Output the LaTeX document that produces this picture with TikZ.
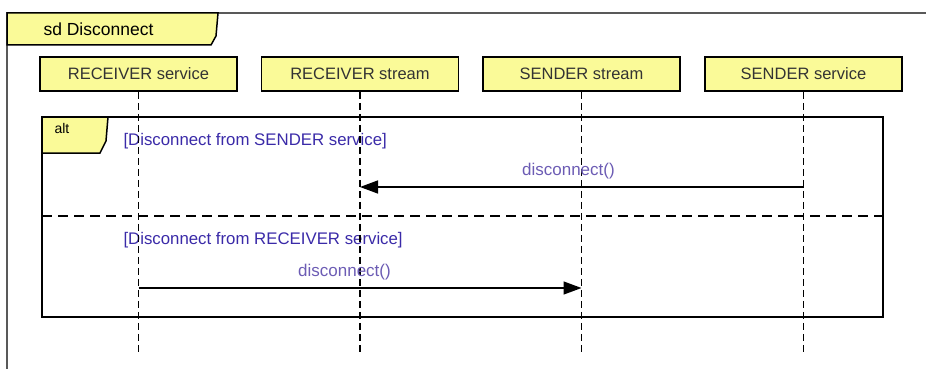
\documentclass[tikz,border=0pt]{standalone}
\usepackage{fontspec}
\setmainfont{Liberation Sans}
\usetikzlibrary{arrows.meta}
\definecolor{tabyellow}{HTML}{FAFA98}
\definecolor{guardblue}{HTML}{3A2AA8}
\definecolor{msgblue}{HTML}{6C5CB4}
\begin{document}
\begin{tikzpicture}[x=1pt,y=-1pt,
    head/.style={draw,fill=tabyellow,line width=1.5pt,minimum width=197pt,minimum height=34pt,
                 inner sep=0pt,font=\fontsize{16.5}{16.5}\selectfont,text=black!80},
    lifeline/.style={line width=1.3pt,dash pattern=on 7pt off 4pt},
    msg/.style={line width=1.5pt,-{Triangle[length=18pt,width=13pt]}},
    msglabel/.style={font=\fontsize{17}{17}\selectfont,text=msgblue},
    guard/.style={anchor=west,font=\fontsize{16.8}{16.8}\selectfont,text=guardblue}]
    \useasboundingbox (0,0) rectangle (926,369);

    % frame sd
    \draw[black!65,line width=2pt] (926,13) -- (7,13) -- (7,369);
    \draw[fill=tabyellow,line width=1.5pt] (7,13) -- (218,13) -- (216,36) -- (211,45) -- (7,45) -- cycle;
    \node[anchor=west,font=\fontsize{17.5}{17.5}\selectfont] (title) at (40,29) {sd Disconnect};

    % lifeline heads
    \node[head] (RSv) at (138.5,74) {RECEIVER service};
    \node[head] (RSt) at (360,74) {RECEIVER stream};
    \node[head] (SSt) at (581.5,74) {SENDER stream};
    \node[head] (SSv) at (803.5,74) {SENDER service};

    % alt fragment
    \draw[line width=2pt] (42,117) rectangle (883,317);
    \draw[fill=tabyellow,line width=1.5pt] (42,117) -- (108,117) -- (106,141) -- (100,153) -- (42,153) -- cycle;
    \node[anchor=west,font=\fontsize{14}{14}\selectfont] (alt) at (51,128) {alt};
    \draw[line width=2pt,dash pattern=on 10pt off 6pt] (42,216) -- (883,216);
    \node[guard] (g1) at (120,141) {[Disconnect from SENDER service]};
    \node[guard] (g2) at (120,240) {[Disconnect from RECEIVER service]};

    % lifelines
    \coordinate (RSvEnd) at (138.5,355);
    \coordinate (RStEnd) at (360,355);
    \coordinate (SStEnd) at (581.5,355);
    \coordinate (SSvEnd) at (803.5,355);
    \draw[lifeline] (RSv) -- (RSvEnd);
    \draw[lifeline] (RSt) -- (RStEnd);
    \draw[lifeline] (SSt) -- (SStEnd);
    \draw[lifeline] (SSv) -- (SSvEnd);

    % messages
    \coordinate (m1from) at (803.5,187);
    \coordinate (m1to) at (360,187);
    \coordinate (m2from) at (138.5,288);
    \coordinate (m2to) at (581.5,288);
    \draw[msg] (m1from) -- (m1to) node[msglabel,pos=.53,above=4pt] {disconnect()};
    \draw[msg] (m2from) -- (m2to) node[msglabel,pos=.465,above=4pt] {disconnect()};
\end{tikzpicture}
\end{document}
